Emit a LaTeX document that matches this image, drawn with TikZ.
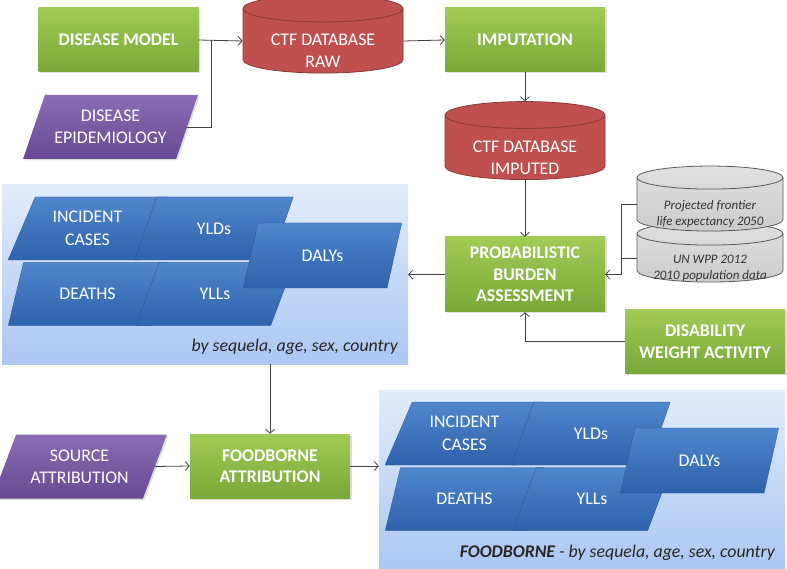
\documentclass[tikz,border=0pt]{standalone}
\usepackage{fontspec}
\setmainfont{Carlito}
\usetikzlibrary{shapes.geometric,arrows.meta,shadows,calc}

\definecolor{greentop}{HTML}{A0CB55}
\definecolor{greenbot}{HTML}{78A838}
\definecolor{purpletop}{HTML}{8A6CB5}
\definecolor{purplebot}{HTML}{684A93}
\definecolor{dbred}{HTML}{C0504D}
\definecolor{dbredline}{HTML}{8C3836}
\definecolor{bluetop}{HTML}{4F86CC}
\definecolor{bluebot}{HTML}{2E62AC}
\definecolor{panelbot}{HTML}{ABC7F2}
\definecolor{paneltop}{HTML}{E2ECFB}
\definecolor{linegray}{HTML}{404040}

\tikzset{
    process/.style={rectangle, top color=greentop, bottom color=greenbot,
        text=white, font=\fontsize{17.8}{21.5}\selectfont\bfseries, align=center,
        minimum width=160pt, minimum height=64pt, inner sep=2pt,
        drop shadow={opacity=0.25, shadow xshift=1.5pt, shadow yshift=-1.5pt}},
    inputdata/.style={trapezium, trapezium left angle=62, trapezium right angle=118,
        trapezium stretches=true, top color=purpletop, bottom color=purplebot,
        text=white, font=\fontsize{17.8}{22}\selectfont, align=center,
        minimum width=175pt, minimum height=64pt, inner sep=1pt,
        drop shadow={opacity=0.25, shadow xshift=1.5pt, shadow yshift=-1.5pt}},
    dataset/.style={cylinder, shape border rotate=90, aspect=0.17,
        fill=dbred, draw=dbredline, line width=0.8pt, text width=158pt,
        minimum width=160pt, minimum height=78pt, inner sep=0pt},
    extdata/.style={cylinder, shape border rotate=90, aspect=0.16,
        top color=white!88!black, bottom color=white!80!black,
        draw=black!65, line width=0.8pt, text width=144pt,
        minimum width=146pt, minimum height=65pt, inner sep=0pt},
    dbtext/.style={text=white, align=center, yshift=-10pt,
        font=\fontsize{17.8}{22}\selectfont},
    exttext/.style={text=black!80, align=center, yshift=-10pt,
        font=\fontsize{13}{16}\selectfont\itshape},
    measure/.style={trapezium, trapezium left angle=63, trapezium right angle=117,
        trapezium stretches=true, top color=bluetop, bottom color=bluebot,
        draw=bluebot!85!black, line width=0.3pt,
        text=white, font=\fontsize{17.8}{23}\selectfont, align=center,
        minimum width=159pt, minimum height=63pt, inner sep=1pt},
    panel/.style={rectangle, top color=paneltop, bottom color=panelbot,
        minimum width=406pt, minimum height=179pt},
    caption/.style={font=\fontsize{17.8}{20}\selectfont\itshape, text=black!85, inner sep=0pt},
    line/.style={draw=linegray, line width=0.8pt},
    arr/.style={line, -{Straight Barb[length=4pt,width=9pt]}},
}

% results block: #1 name prefix, #2 shift, #3 caption
\newcommand{\burdenblock}[3]{
    \begin{scope}[shift={#2}]
        \node[panel] (#1-panel) at (205,274.5) {};
        \node[measure] (#1-inc) at (87.5,228.5) {INCIDENT\\CASES};
        \node[measure] (#1-yld) at (214,228.5) {YLDs};
        \node[measure] (#1-death) at (87.5,294) {DEATHS};
        \node[measure] (#1-yll) at (215,294) {YLLs};
        \node[measure, trapezium left angle=70, trapezium right angle=110,
            minimum height=65pt] (#1-daly) at (322.5,255.5) {DALYs};
        \node[caption, anchor=base east] (#1-cap) at (398,352) {#3};
    \end{scope}
}

\begin{document}
\begin{tikzpicture}[x=1pt, y=-1pt]
    \useasboundingbox (0,0) rectangle (787,569);

    % Results panels
    \burdenblock{burden}{(0,0)}{by sequela, age, sex, country}
    \burdenblock{fburden}{(377,205)}{\textbf{FOODBORNE} - by sequela, age, sex, country}

    % Model and data inputs
    \node[process] (model) at (118.5,40) {DISEASE MODEL};
    \node[inputdata] (epi) at (110.5,127) {DISEASE\\EPIDEMIOLOGY};
    \node[dataset, label={[dbtext]center:CTF DATABASE\\RAW}] (raw) at (323,41) {};
    \node[process] (imput) at (525,40) {IMPUTATION};
    \node[dataset, label={[dbtext]center:CTF DATABASE\\IMPUTED}] (cdb) at (525,147.5) {};
    \node[process, minimum height=75pt] (pba) at (525,274.5) {PROBABILISTIC\\BURDEN\\ASSESSMENT};

    % External data
    \node[extdata, minimum height=60pt, label={[exttext]center:UN WPP 2012\\2010 population data}] (wpp) at (710,258) {};
    \node[extdata, label={[exttext]center:Projected frontier\\life expectancy 2050}] (frontier) at (710,204.5) {};
    \node[process, minimum height=63pt] (dwa) at (705,341.5) {DISABILITY\\WEIGHT ACTIVITY};

    % Attribution
    \node[inputdata] (src) at (79.5,466.5) {SOURCE\\ATTRIBUTION};
    \node[process] (fba) at (270,466) {FOODBORNE\\ATTRIBUTION};

    % Connectors
    \coordinate (ejoin) at ($(model.east)+(13,0)$);
    \coordinate (gjoin) at ($(pba.east)+(16,0)$);
    \draw[arr] (model.east) -- (raw.west);
    \draw[line] (epi.east) -| (ejoin);
    \draw[arr] (raw.east) -- (imput.west);
    \draw[arr] (imput.south) -- (cdb.north);
    \draw[arr] (cdb.south) -- (pba.north);
    \draw[arr] (frontier.west) -| (gjoin) -- (pba.east);
    \draw[line] (wpp.west) -- (wpp.west -| gjoin);
    \draw[arr] (dwa.west) -| (pba.south);
    \draw[arr] (pba.west) -- (pba.west -| burden-panel.east);
    \draw[arr] (burden-panel.south -| fba.north) -- (fba.north);
    \draw[arr] (src.east) -- (fba.west);
    \draw[arr] (fba.east) -- (fba.east -| fburden-panel.west);

\end{tikzpicture}
\end{document}
